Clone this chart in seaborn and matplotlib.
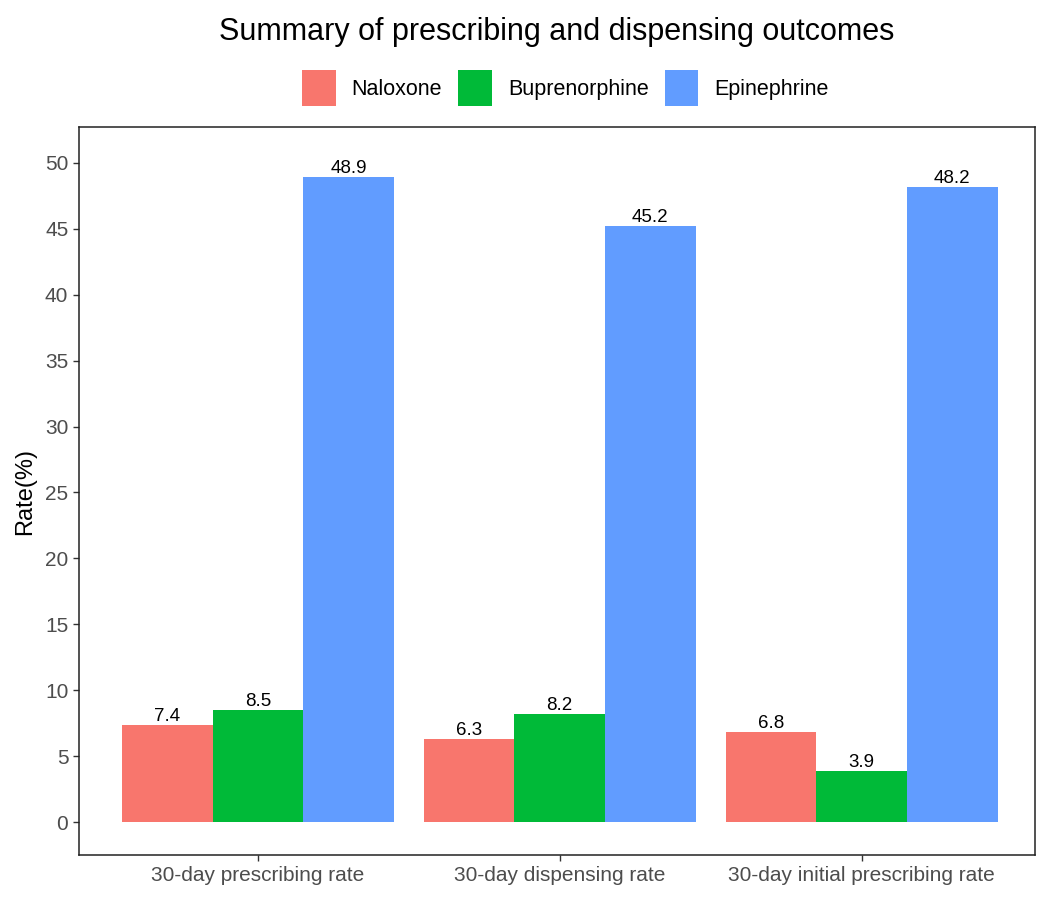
import pandas as pd
import matplotlib
matplotlib.use("Agg")
import matplotlib.pyplot as plt
import seaborn as sns
from matplotlib.patches import Patch

# Data
outcomes = ["30-day prescribing rate", "30-day dispensing rate", "30-day initial prescribing rate"]
drugs = ["Naloxone", "Buprenorphine", "Epinephrine"]
naloxone = [7.4, 6.3, 6.8]
buprenorphine = [8.5, 8.2, 3.9]
epinephrine = [48.9, 45.2, 48.2]
colors = ["#F8766D", "#00BA38", "#619CFF"]

df = pd.DataFrame({
    "outcome": outcomes * 3,
    "drug": [d for d in drugs for _ in outcomes],
    "rate": naloxone + buprenorphine + epinephrine,
})

sns.set_style("white")
plt.rcParams["font.family"] = ["Liberation Sans", "DejaVu Sans"]

fig = plt.figure(figsize=(10.5, 9.02), dpi=100)
ax = fig.add_axes([0.075, 0.052, 0.911, 0.807])

sns.barplot(data=df, x="outcome", y="rate", hue="drug", order=outcomes,
            hue_order=drugs, palette=colors, width=0.9, gap=0,
            saturation=1, errorbar=None, legend=False, ax=ax,
            edgecolor="none", linewidth=0)

# value labels above bars
for cont in ax.containers:
    ax.bar_label(cont, fmt="%.1f", padding=0, fontsize=13.5, color="black")

ax.set_ylim(-2.5, 52.7)
ax.set_xlim(-0.593, 2.575)
ax.set_yticks(range(0, 51, 5))
ax.set_xlabel("")
ax.set_ylabel("Rate(%)", fontsize=17, color="black", labelpad=6)
ax.tick_params(axis="both", labelsize=15, labelcolor="#4D4D4D", length=4,
               width=1, color="#333333", direction="out", bottom=True, left=True)
for s in ax.spines.values():
    s.set_color("#222222")
    s.set_linewidth(1.1)

# title and legend centred over the panel, like ggplot
cx = 0.075 + 0.911 / 2
fig.text(cx, 0.965, "Summary of prescribing and dispensing outcomes",
         fontsize=22, ha="center", va="center", color="black")

handles = [Patch(facecolor=c, edgecolor="none", label=d) for d, c in zip(drugs, colors)]
fig.legend(handles=handles, loc="center", bbox_to_anchor=(cx + 0.008, 0.902), ncol=3,
           frameon=False, fontsize=15.5, handlelength=1.55, handleheight=2.2,
           columnspacing=0.75, handletextpad=0.75, labelcolor="black")

fig.savefig("out.png", dpi=100)
